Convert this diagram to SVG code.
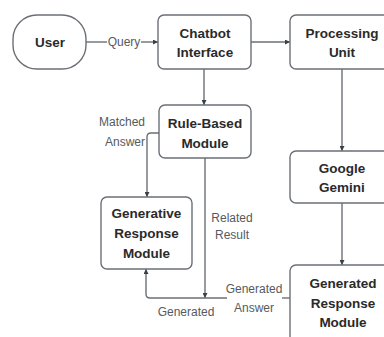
<svg xmlns="http://www.w3.org/2000/svg" width="384" height="337" viewBox="0 0 384 337">
<defs>
<marker id="arr" viewBox="0 0 10 10" refX="10" refY="5" markerWidth="5" markerHeight="5" orient="auto" markerUnits="userSpaceOnUse">
<path d="M0,0 L10,5 L0,10 z" fill="#3a4048"/>
</marker>
</defs>
<style>
.box{fill:#ffffff;stroke:#6b6f75;stroke-width:1.4}
.nt{font-family:"Liberation Sans",Arial,sans-serif;font-size:13.5px;font-weight:bold;fill:#2a2a2a;text-anchor:middle}
.lb{font-family:"Liberation Sans",Arial,sans-serif;font-size:12px;fill:#555a60;text-anchor:middle}
.ln{fill:none;stroke:#6b6f75;stroke-width:1.4}
</style>
<rect width="384" height="337" fill="#ffffff"/>
<g id="connectors">
<path class="ln" d="M86,42 H107"/>
<path class="ln" d="M141,42 H158" marker-end="url(#arr)"/>
<path class="ln" d="M251,42 H290" marker-end="url(#arr)"/>
<path class="ln" d="M204,69 V105" marker-end="url(#arr)"/>
<path class="ln" d="M342,69 V151" marker-end="url(#arr)"/>
<path class="ln" d="M342,203 V265" marker-end="url(#arr)"/>
<path class="ln" d="M159,133 H151 Q147,133 147,137 V197" marker-end="url(#arr)"/>
<path class="ln" d="M205,158 V298" marker-end="url(#arr)"/>
<path class="ln" d="M290,298 H282"/>
<path class="ln" d="M227,298 H150 Q146,298 146,294 V269" marker-end="url(#arr)"/>
<text class="lb" x="124" y="46">Query</text>
<text class="lb" x="145" y="126" text-anchor="end" style="text-anchor:end">Matched</text>
<text class="lb" x="145" y="146" style="text-anchor:end">Answer</text>
<text class="lb" x="232" y="222">Related</text>
<text class="lb" x="232" y="239">Result</text>
<text class="lb" x="254" y="293">Generated</text>
<text class="lb" x="254" y="312">Answer</text>
<text class="lb" x="186" y="316">Generated</text>
</g>
<g id="user">
<rect class="box" x="13" y="15" width="73" height="54" rx="24"/>
<text class="nt" x="50" y="47">User</text>
</g>
<g id="chatbot">
<rect class="box" x="158" y="15" width="93" height="54" rx="6"/>
<text class="nt" x="205" y="38">Chatbot</text>
<text class="nt" x="205" y="57">Interface</text>
</g>
<g id="processing">
<rect class="box" x="290" y="15" width="104" height="54" rx="6"/>
<text class="nt" x="342" y="38">Processing</text>
<text class="nt" x="342" y="57">Unit</text>
</g>
<g id="rulebased">
<rect class="box" x="159" y="105" width="92" height="53" rx="6"/>
<text class="nt" x="205" y="128">Rule-Based</text>
<text class="nt" x="205" y="148">Module</text>
</g>
<g id="gemini">
<rect class="box" x="290" y="151" width="104" height="52" rx="6"/>
<text class="nt" x="342" y="173">Google</text>
<text class="nt" x="342" y="192">Gemini</text>
</g>
<g id="generative">
<rect class="box" x="101" y="197" width="91" height="72" rx="6"/>
<text class="nt" x="146.5" y="218">Generative</text>
<text class="nt" x="146.5" y="238">Response</text>
<text class="nt" x="146.5" y="258">Module</text>
</g>
<g id="generated">
<rect class="box" x="290" y="265" width="104" height="80" rx="6"/>
<text class="nt" x="343" y="288">Generated</text>
<text class="nt" x="343" y="308">Response</text>
<text class="nt" x="343" y="327">Module</text>
</g>
</svg>
